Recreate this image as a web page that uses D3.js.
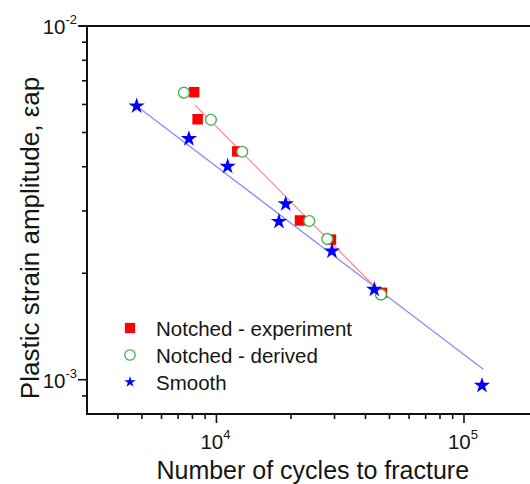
<!DOCTYPE html>
<html>
<head>
<meta charset="utf-8">
<script src="https://cdn.jsdelivr.net/npm/d3@7"></script>
<style>
  html, body { margin: 0; padding: 0; background: #ffffff; }
  svg { display: block; }
  text { font-family: Arial, "Liberation Sans", sans-serif; fill: #151515; }
</style>
</head>
<body>
<svg id="chart" width="530" height="484"></svg>
<script>
// ---- data ----
const expN = [8130, 8395, 12140, 21750, 29010, 46640];
const expE = [0.00650, 0.00545, 0.00442, 0.00282, 0.00249, 0.00176];
const derN = [7390, 9500, 12710, 23710, 28040, 46200];
const derE = [0.00648, 0.00543, 0.00441, 0.00281, 0.00250, 0.00174];
const smoothN = [4760, 7743, 11100, 19040, 17890, 29290, 43420, 118200];
const smoothE = [0.00594, 0.00480, 0.00401, 0.00314, 0.00280, 0.00231, 0.00180, 0.000963];
// fitted lines (end points)
const smoothFitN = [4760, 119700];
const smoothFitE = [0.00594, 0.00107];
const notchFitN = [8190, 45800];
const notchFitE = [0.00598, 0.00177];
// ticks
const xMajor = [1e4, 1e5];
const xMajorExp = ["4", "5"];
const xMinor = [4000, 5000, 6000, 7000, 8000, 9000, 20000, 30000, 40000, 50000, 60000, 70000, 80000, 90000];
const yMajor = [1e-3, 1e-2];
const yMajorExp = ["-3", "-2"];
const yMinor = [0.0009, 0.002, 0.003, 0.004, 0.005, 0.006, 0.007, 0.008, 0.009];
const legendLabels = ["Notched - experiment", "Notched - derived", "Smooth"];
const xTitle = "Number of cycles to fracture";
const yTitle = "Plastic strain amplitude, \u03B5ap";

(function () {
// ---- layout ----
const svg = d3.select("#chart");
const pL = 87, pR = 538.5, pT = 26, pB = 414;
const x = d3.scaleLog().domain([3000, 200000]).range([pL, pR]);
const y = d3.scaleLog().domain([0.0008, 0.01]).range([pB, pT]);

const blue = "#0000ff", red = "#ff0000", green = "#4caf50";

// fit lines
const line = d3.line().x(d => x(d[0])).y(d => y(d[1]));
svg.append("path")
  .attr("d", line(smoothFitN.map((n, i) => [n, smoothFitE[i]])))
  .attr("fill", "none").attr("stroke", "#8a8aff").attr("stroke-width", 1.3);
svg.append("path")
  .attr("d", line(notchFitN.map((n, i) => [n, notchFitE[i]])))
  .attr("fill", "none").attr("stroke", "#ff8f8f").attr("stroke-width", 1.3);

// squares
const sq = d3.symbol().type(d3.symbolSquare).size(110);
svg.append("g").selectAll("path").data(expN).join("path")
  .attr("d", sq)
  .attr("transform", (d, i) => `translate(${x(d)},${y(expE[i])})`)
  .attr("fill", red);

// circles
svg.append("g").selectAll("circle").data(derN).join("circle")
  .attr("cx", d => x(d)).attr("cy", (d, i) => y(derE[i]))
  .attr("r", 5.4).attr("fill", "#ffffff").attr("stroke", green).attr("stroke-width", 1.4);

// stars
const star = d3.symbol().type(d3.symbolStar).size(82);
svg.append("g").selectAll("path").data(smoothN).join("path")
  .attr("d", star)
  .attr("transform", (d, i) => `translate(${x(d)},${y(smoothE[i])})`)
  .attr("fill", blue);

// axes lines
const axis = svg.append("g").attr("stroke", "#111").attr("stroke-width", 2).attr("fill", "none");
axis.append("line").attr("x1", pL).attr("x2", pL).attr("y1", pT - 1).attr("y2", pB + 1);
axis.append("line").attr("x1", pL - 8).attr("x2", 540).attr("y1", pT).attr("y2", pT);
axis.append("line").attr("x1", pL - 1).attr("x2", 540).attr("y1", pB).attr("y2", pB);

// x ticks
const xt = svg.append("g").attr("stroke", "#111").attr("stroke-width", 1.6);
xMinor.forEach(v => xt.append("line").attr("x1", x(v)).attr("x2", x(v)).attr("y1", pB).attr("y2", pB + 5));
xMajor.forEach(v => xt.append("line").attr("x1", x(v)).attr("x2", x(v)).attr("y1", pB).attr("y2", pB + 9));
// y ticks
const yt = svg.append("g").attr("stroke", "#111").attr("stroke-width", 1.6);
yMinor.forEach(v => yt.append("line").attr("x1", pL).attr("x2", pL - 5).attr("y1", y(v)).attr("y2", y(v)));
yMajor.forEach(v => yt.append("line").attr("x1", pL).attr("x2", pL - 9).attr("y1", y(v)).attr("y2", y(v)));

// x tick labels
xMajor.forEach((v, i) => {
  const t = svg.append("text").attr("x", x(v) - 1).attr("y", pB + 35)
    .attr("text-anchor", "middle").attr("font-size", 20.5);
  t.append("tspan").text("10");
  t.append("tspan").attr("font-size", 13).attr("dy", -10).text(xMajorExp[i]);
});
// y tick labels
yMajor.forEach((v, i) => {
  const t = svg.append("text").attr("x", 77).attr("y", y(v) + 8)
    .attr("text-anchor", "end").attr("font-size", 20.5);
  t.append("tspan").text("10");
  t.append("tspan").attr("font-size", 13).attr("dy", -10).text(yMajorExp[i]);
});

// axis titles
svg.append("text").attr("x", (pL + pR) / 2).attr("y", 479)
  .attr("text-anchor", "middle").attr("font-size", 25).text(xTitle);
svg.append("text").attr("transform", "translate(39,238) rotate(-90)")
  .attr("text-anchor", "middle").attr("font-size", 26).text(yTitle);

// legend
const lg = svg.append("g");
const ly = [328, 355, 382];
lg.append("path").attr("d", d3.symbol().type(d3.symbolSquare).size(105))
  .attr("transform", `translate(130,${ly[0]})`).attr("fill", red);
lg.append("circle").attr("cx", 130).attr("cy", ly[1]).attr("r", 5.2)
  .attr("fill", "#fff").attr("stroke", green).attr("stroke-width", 1.3);
lg.append("path").attr("d", d3.symbol().type(d3.symbolStar).size(40))
  .attr("transform", `translate(130,${ly[2]})`).attr("fill", blue);
legendLabels.forEach((s, i) => {
  lg.append("text").attr("x", 156).attr("y", ly[i] + 7.5).attr("font-size", 20.5).text(s);
});
})();
</script>
</body>
</html>
